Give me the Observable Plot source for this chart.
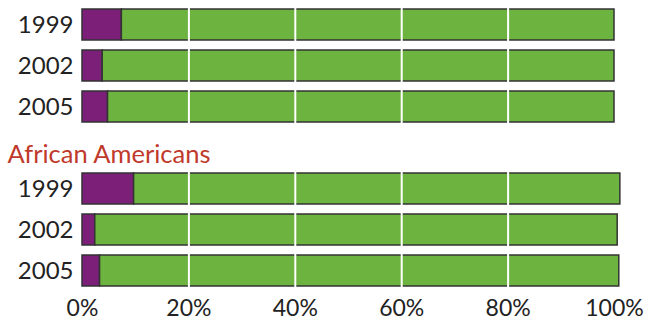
<!DOCTYPE html>
<html>
<head>
<meta charset="utf-8">
<script src="https://cdn.jsdelivr.net/npm/d3@7"></script>
<script src="https://cdn.jsdelivr.net/npm/@observablehq/plot@0.6"></script>
<style>
  html, body { margin: 0; padding: 0; background: #fff; }
  #chart svg { display: block; }
</style>
</head>
<body>
<div id="chart"></div>
<script>
// Data
const years = ["1999", "2002", "2005"];
const groups = ["All", "African Americans"];
const groupTitle = "African Americans";
const purpleTop = [7.4, 3.8, 4.8];
const greenTop = [92.6, 96.2, 95.2];
const purpleAA = [9.7, 2.4, 3.3];
const greenAA = [91.4, 98.2, 97.6];
const xTicks = [0, 20, 40, 60, 80, 100];
const gridTicks = [20, 40, 60, 80];

const keyTop = years.map(y => "top-" + y);
const keyAA = years.map(y => "aa-" + y);
const yDomain = [...keyTop, "gap", ...keyAA];

const rows = [];
years.forEach((y, i) => {
  rows.push({key: keyTop[i], year: y, cat: "a", value: purpleTop[i]});
  rows.push({key: keyTop[i], year: y, cat: "b", value: greenTop[i]});
});
years.forEach((y, i) => {
  rows.push({key: keyAA[i], year: y, cat: "a", value: purpleAA[i]});
  rows.push({key: keyAA[i], year: y, cat: "b", value: greenAA[i]});
});
const yearOf = Object.fromEntries(rows.map(r => [r.key, r.year]));

const chart = Plot.plot({
  width: 652,
  height: 320,
  marginLeft: 82,
  marginRight: 38,
  marginTop: 0,
  marginBottom: 25,
  style: {fontFamily: "Lato, 'Open Sans', sans-serif", fontSize: "23px", color: "#222", background: "#fff"},
  x: {domain: [0, 100], label: null},
  y: {domain: yDomain, paddingInner: 0.255, paddingOuter: 0.17, label: null},
  color: {domain: ["a", "b"], range: ["#7b1f79", "#6db340"]},
  marks: [
    Plot.barX(rows, {x: "value", y: "key", fill: "cat", stroke: "#333", strokeWidth: 1.5, order: ["a", "b"]}),
    Plot.ruleX(gridTicks, {stroke: "#fff", strokeWidth: 2}),
    Plot.axisY([...keyTop, ...keyAA], {tickSize: 0, tickPadding: 9, tickFormat: k => yearOf[k], fontSize: 24, fill: "#222", label: null}),
    Plot.axisX(xTicks, {tickSize: 0, tickPadding: 4, tickFormat: d => d + "%", fontSize: 23, fill: "#222", label: null}),
    Plot.text([groupTitle], {frameAnchor: "left", y: () => "gap", dx: -75, dy: 7, textAnchor: "start", fill: "#c0392b", fontSize: 25.5})
  ]
});
document.getElementById("chart").appendChild(chart);
</script>
</body>
</html>
